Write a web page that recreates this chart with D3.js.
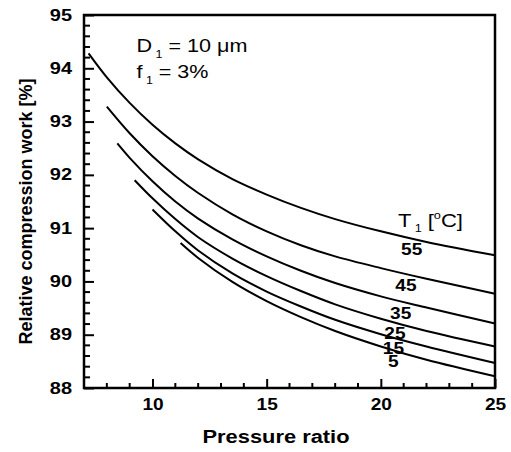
<!DOCTYPE html>
<html>
<head>
<meta charset="utf-8">
<script src="https://cdn.jsdelivr.net/npm/d3@7"></script>
<style>
  body { margin: 0; background: #fff; }
  text { font-family: Arial, "Liberation Sans", sans-serif; fill: #000; }
  .tick-label { font-size: 16px; font-weight: bold; }
  .axis-title { font-size: 18px; font-weight: bold; }
  .curve-label { font-size: 16px; font-weight: bold; }
  .note { font-size: 19px; }
</style>
</head>
<body>
<div id="chart"></div>
<script>
// Relative compression work [%] vs pressure ratio, one curve per inlet temperature T1
const temperatures = ["55", "45", "35", "25", "15", "5"];

const curve55 = [[7.2, 94.28], [8, 93.83], [9, 93.35], [10, 92.94], [11, 92.59], [12, 92.29], [13.5, 91.92],
                 [15, 91.63], [16.5, 91.38], [18, 91.17], [20, 90.94], [22, 90.74], [25, 90.49]];
const curve45 = [[8, 93.28], [9, 92.78], [10, 92.35], [11, 91.98], [12, 91.66], [13.5, 91.26],
                 [15, 90.94], [16.5, 90.68], [18, 90.47], [20, 90.25], [22, 90.05], [25, 89.77]];
const curve35 = [[8.46, 92.59], [9, 92.32], [10, 91.88], [11, 91.50], [12, 91.18], [13.5, 90.79],
                 [15, 90.47], [16.5, 90.20], [18, 89.97], [20, 89.72], [22, 89.51], [25, 89.21]];
const curve25 = [[9.22, 91.90], [10, 91.56], [11, 91.17], [12, 90.83], [13.5, 90.43],
                 [15, 90.10], [16.5, 89.82], [18, 89.57], [20, 89.30], [22, 89.07], [25, 88.78]];
const curve15 = [[10, 91.35], [11, 90.94], [12, 90.58], [13.5, 90.15],
                 [15, 89.81], [16.5, 89.53], [18, 89.28], [20, 89.01], [22, 88.78], [25, 88.47]];
const curve5  = [[11.23, 90.72], [12, 90.44], [13.5, 89.99],
                 [15, 89.63], [16.5, 89.33], [18, 89.07], [20, 88.78], [22, 88.53], [25, 88.22]];

const curves = [curve55, curve45, curve35, curve25, curve15, curve5];

const xTicks = [10, 15, 20, 25];
const yTicks = [88, 89, 90, 91, 92, 93, 94, 95];

// where each temperature label sits, in data units
const labelSpots = [[21.35, 90.59], [21.1, 89.93], [20.87, 89.40], [20.62, 89.03], [20.55, 88.74], [20.55, 88.49]];

const width = 511, height = 452;
const margin = { top: 15, right: 16, bottom: 64, left: 84 };

// the original export draws its text a little wide; stretch glyphs to match
const digitWidth = 10.6;

const svg = d3.select("#chart").append("svg")
    .attr("width", width)
    .attr("height", height);

const x = d3.scaleLinear().domain([7, 25]).range([margin.left, width - margin.right]);
const y = d3.scaleLinear().domain([88, 95]).range([height - margin.bottom, margin.top]);

// minor ticks
const xMinor = d3.range(8, 25, 1).filter(v => !xTicks.includes(v));
const yMinor = d3.range(88.2, 95, 0.2).map(v => +v.toFixed(1)).filter(v => !yTicks.includes(v));

const xAxis = d3.axisBottom(x).tickValues(xTicks).tickSize(-9).tickFormat(d3.format("d"));
const yAxis = d3.axisLeft(y).tickValues(yTicks).tickSize(-10).tickFormat(d3.format("d"));

const gx = svg.append("g")
    .attr("transform", "translate(0," + y.range()[0] + ")")
    .call(xAxis);
gx.selectAll(".tick line").attr("stroke", "#000").attr("stroke-width", 2);
gx.selectAll(".tick text").attr("class", "tick-label").attr("y", 22).attr("dy", 0)
    .attr("textLength", d => String(d).length * digitWidth)
    .attr("lengthAdjust", "spacingAndGlyphs");
gx.select(".domain").remove();
gx.attr("font-size", null).attr("font-family", null);
gx.selectAll(".minor").data(xMinor).enter().append("line")
    .attr("x1", d => x(d)).attr("x2", d => x(d))
    .attr("y1", 0).attr("y2", -5)
    .attr("stroke", "#000").attr("stroke-width", 2);

const gy = svg.append("g")
    .attr("transform", "translate(" + x.range()[0] + ",0)")
    .call(yAxis);
gy.selectAll(".tick line").attr("stroke", "#000").attr("stroke-width", 2);
gy.selectAll(".tick text").attr("class", "tick-label").attr("x", -12)
    .attr("textLength", d => String(d).length * (digitWidth + 0.5))
    .attr("lengthAdjust", "spacingAndGlyphs");
gy.select(".domain").remove();
gy.attr("font-size", null).attr("font-family", null);
gy.selectAll(".minor").data(yMinor).enter().append("line")
    .attr("x1", 0).attr("x2", 6)
    .attr("y1", d => y(d)).attr("y2", d => y(d))
    .attr("stroke", "#000").attr("stroke-width", 2);

// frame
svg.append("rect")
    .attr("x", x.range()[0]).attr("y", y.range()[1])
    .attr("width", x.range()[1] - x.range()[0])
    .attr("height", y.range()[0] - y.range()[1])
    .attr("fill", "none").attr("stroke", "#000").attr("stroke-width", 2.5);

// curves
const line = d3.line()
    .x(d => x(d[0]))
    .y(d => y(d[1]))
    .curve(d3.curveCatmullRom.alpha(0.5));

svg.selectAll(".curve").data(curves).enter().append("path")
    .attr("class", "curve")
    .attr("d", line)
    .attr("fill", "none")
    .attr("stroke", "#000")
    .attr("stroke-width", 2);

// temperature labels
svg.selectAll(".curve-label").data(temperatures).enter().append("text")
    .attr("class", "curve-label")
    .attr("x", (d, i) => x(labelSpots[i][0]))
    .attr("y", (d, i) => y(labelSpots[i][1]))
    .attr("text-anchor", "middle")
    .attr("dominant-baseline", "central")
    .attr("textLength", d => d.length * digitWidth)
    .attr("lengthAdjust", "spacingAndGlyphs")
    .text(d => d);

// T1 [oC] heading
const tHead = svg.append("text").attr("class", "note")
    .attr("x", x(20.75)).attr("y", y(91.02))
    .attr("textLength", 65).attr("lengthAdjust", "spacingAndGlyphs");
tHead.append("tspan").text("T");
tHead.append("tspan").attr("font-size", 11).attr("dy", 5).attr("dx", 3).text("1");
tHead.append("tspan").attr("dy", -5).attr("dx", 5).text("[");
tHead.append("tspan").attr("font-size", 11).attr("dy", -8).text("o");
tHead.append("tspan").attr("dy", 8).text("C]");

// D1 / f1 note
const note1 = svg.append("text").attr("class", "note")
    .attr("x", x(9.3)).attr("y", y(94.305))
    .attr("textLength", 111).attr("lengthAdjust", "spacingAndGlyphs");
note1.append("tspan").text("D");
note1.append("tspan").attr("font-size", 11).attr("dy", 6).attr("dx", 3).text("1");
note1.append("tspan").attr("dy", -6).text(" = 10 \u03bcm");

const note2 = svg.append("text").attr("class", "note")
    .attr("x", x(9.3)).attr("y", y(93.81))
    .attr("textLength", 72).attr("lengthAdjust", "spacingAndGlyphs");
note2.append("tspan").text("f");
note2.append("tspan").attr("font-size", 11).attr("dy", 6).attr("dx", 3).text("1");
note2.append("tspan").attr("dy", -6).text(" = 3%");

// axis titles
svg.append("text").attr("class", "axis-title")
    .attr("x", 276).attr("y", 443)
    .attr("text-anchor", "middle")
    .attr("textLength", 147).attr("lengthAdjust", "spacingAndGlyphs")
    .text("Pressure ratio");

svg.append("text").attr("class", "axis-title")
    .attr("transform", "translate(31.5," + 211.5 + ") rotate(-90)")
    .attr("text-anchor", "middle")
    .attr("textLength", 266).attr("lengthAdjust", "spacingAndGlyphs")
    .text("Relative compression work [%]");
</script>
</body>
</html>
